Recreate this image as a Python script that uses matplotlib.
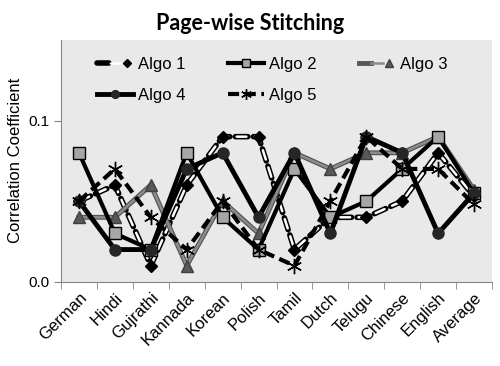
import numpy as np
import matplotlib
matplotlib.use('Agg')
import matplotlib.pyplot as plt
from matplotlib.legend_handler import HandlerTuple

# data
langs = ['German', 'Hindi', 'Gujrathi', 'Kannada', 'Korean', 'Polish',
         'Tamil', 'Dutch', 'Telugu', 'Chinese', 'English', 'Average']
algo1 = [0.05, 0.06, 0.01, 0.06, 0.09, 0.09, 0.02, 0.04, 0.04, 0.05, 0.08, 0.053]
algo2 = [0.08, 0.03, 0.02, 0.08, 0.04, 0.02, 0.07, 0.04, 0.05, 0.07, 0.09, 0.055]
algo3 = [0.04, 0.04, 0.06, 0.01, 0.05, 0.03, 0.08, 0.07, 0.08, 0.08, 0.09, 0.057]
algo4 = [0.05, 0.02, 0.02, 0.07, 0.08, 0.04, 0.08, 0.03, 0.09, 0.08, 0.03, 0.055]
algo5 = [0.05, 0.07, 0.04, 0.02, 0.05, 0.02, 0.01, 0.05, 0.09, 0.07, 0.07, 0.048]

plt.rcParams['font.family'] = ['Liberation Sans', 'DejaVu Sans']
plt.rcParams['lines.scale_dashes'] = False

fig = plt.figure(figsize=(5, 3.66), dpi=100)
ax = fig.add_axes([0.122, 0.23, 0.862, 0.661])
ax.set_facecolor('#e9e9e9')

x = np.arange(len(langs))

# Algo 1: white dashes with black outline, black diamonds
a1o, = ax.plot(x, algo1, color='black', lw=4, ls=(0, (9, 4)), zorder=3,
               solid_capstyle='round', dash_capstyle='round')
a1i, = ax.plot(x, algo1, color='white', lw=1.8, ls=(12, (7, 6)), zorder=3,
               dash_capstyle='round')
a1m, = ax.plot(x, algo1, ls='none', marker='D', ms=6.5, mfc='black', mec='black', zorder=3)
# Algo 2
l2, = ax.plot(x, algo2, color='black', lw=3, marker='s', ms=8,
              mfc='#a6a6a6', mec='black', mew=1, zorder=4)
# Algo 3: grey line with darker edge
a3o, = ax.plot(x, algo3, color='#555555', lw=3.5, zorder=3)
a3i, = ax.plot(x, algo3, color='#8c8c8c', lw=1.8, zorder=3)
a3m, = ax.plot(x, algo3, ls='none', marker='^', ms=8.5, mfc='#595959', mec='#404040', zorder=3)
# Algo 4
l4, = ax.plot(x, algo4, color='black', lw=3.5, marker='o', ms=8,
              mfc='#262626', mec='#262626', zorder=4)
# Algo 5
l5, = ax.plot(x, algo5, color='black', lw=3, ls=(0, (8, 4)), marker=(6, 2, 0), ms=11,
              mec='black', mew=1, zorder=5)

ax.set_xlim(-0.5, len(langs) - 0.5)
ax.set_ylim(0, 0.15)
ax.set_yticks([0.0, 0.1])
ax.set_yticklabels(['0.0', '0.1'], fontsize=11)
ax.set_xticks(x)
ax.set_xticklabels(langs, rotation=45, ha='right', rotation_mode='anchor', fontsize=12)
ax.set_xticks(np.arange(-0.5, len(langs)), minor=True)
ax.tick_params(axis='x', which='major', length=0, pad=6)
ax.tick_params(axis='x', which='minor', length=5, color='#868686')
ax.tick_params(axis='y', length=5, color='#868686')

for s in ['top', 'right']:
    ax.spines[s].set_visible(False)
for s in ['left', 'bottom']:
    ax.spines[s].set_color('#868686')

ax.set_ylabel('Correlation Coefficient', fontsize=12)
fig.text(0.5, 0.918, 'Page-wise Stitching', fontsize=15.5, fontweight='bold',
         family=['Lato', 'DejaVu Sans'], ha='center', va='baseline')

# column-wise fill, so order to get Algo1-3 on first row
handles = [(a1o, a1i, a1m), l4, l2, l5, (a3o, a3i, a3m)]
labels = ['Algo 1', 'Algo 4', 'Algo 2', 'Algo 5', 'Algo 3']
ax.legend(handles, labels, handler_map={tuple: HandlerTuple(ndivide=None, pad=0)},
          loc='upper center', ncol=3, frameon=False, fontsize=12, markerscale=0.7,
          handlelength=2.2, columnspacing=2.5, handletextpad=0.3,
          bbox_to_anchor=(0.49, 0.99), labelspacing=0.95)

fig.savefig('out.png', dpi=100)
